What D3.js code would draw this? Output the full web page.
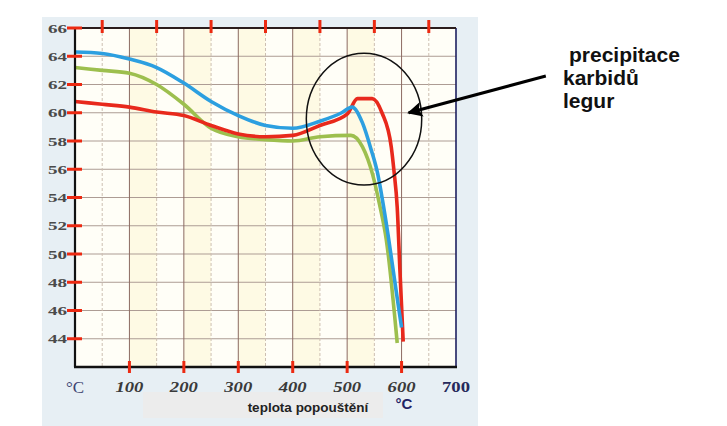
<!DOCTYPE html>
<meta charset="utf-8">
<style>
body { margin: 0; background: #fff; }
svg { display: block; }
</style>
<body>
<div id="chart"></div>
<script src="https://cdn.jsdelivr.net/npm/d3@7"></script>
<script>

// data: temperature (°C) vs hardness (HRC)
var blueT = [0, 50, 100, 150, 200, 250, 300, 350, 400, 450, 490, 509, 528, 544, 556, 565, 575, 590, 600];
var blueV = [64.3, 64.2, 63.8, 63.2, 62.1, 60.8, 59.8, 59.1, 58.9, 59.4, 60.0, 60.4, 59.3, 57.4, 55.7, 53.8, 51.4, 47.4, 44.8];

var redT = [0, 50, 100, 150, 200, 250, 300, 350, 400, 450, 500, 519, 546, 564, 581, 586, 592, 597, 603];
var redV = [60.8, 60.6, 60.4, 60.05, 59.8, 59.1, 58.5, 58.3, 58.4, 59.1, 59.9, 61.0, 61.0, 60.0, 57.6, 55.9, 53.3, 48.8, 43.8];

var greenT = [0, 50, 100, 150, 200, 250, 300, 350, 400, 450, 507, 528, 547, 559, 572, 592];
var greenV = [63.2, 63.0, 62.8, 62.0, 60.6, 58.9, 58.3, 58.1, 58.0, 58.3, 58.4, 57.6, 55.6, 53.6, 51.0, 43.7];

var xTicks = [100, 200, 300, 400, 500, 600, 700];
var xTopTicks = [50, 150, 250, 350, 450, 550, 650];
var xBottomTicks = [100, 200, 300, 400, 500, 600];
var yTicks = [44, 46, 48, 50, 52, 54, 56, 58, 60, 62, 64, 66];
var bands = [100, 200, 300, 400, 500];

var note = ['precipitace', 'karbidů', 'legur'];

var W = 727, H = 426;
var x = d3.scaleLinear().domain([0, 700]).range([75, 456]);
var y = d3.scaleLinear().domain([42, 66]).range([367, 28]);

var svg = d3.select('#chart').append('svg')
  .attr('width', W).attr('height', H);

// pale blue paper behind the chart
svg.append('rect')
  .attr('x', 42).attr('y', 17).attr('width', 436).attr('height', H - 17)
  .attr('fill', '#e7eff4');

// plot area
svg.append('rect')
  .attr('x', x(0)).attr('y', y(66))
  .attr('width', x(700) - x(0)).attr('height', y(42) - y(66))
  .attr('fill', '#fffef7');

svg.selectAll('.band').data(bands).enter().append('rect')
  .attr('x', function(d){ return x(d); })
  .attr('y', y(66))
  .attr('width', x(50) - x(0))
  .attr('height', y(42) - y(66))
  .attr('fill', '#fefae4');

// grid
svg.selectAll('.hgrid').data(yTicks).enter().append('line')
  .attr('x1', x(0)).attr('x2', x(700))
  .attr('y1', function(d){ return y(d); }).attr('y2', function(d){ return y(d); })
  .attr('stroke', '#ad9c94').attr('stroke-width', 1);

svg.selectAll('.vgrid').data(d3.range(50, 700, 50)).enter().append('line')
  .attr('x1', function(d){ return x(d); }).attr('x2', function(d){ return x(d); })
  .attr('y1', y(66)).attr('y2', y(42))
  .attr('stroke', function(d){ return d % 100 == 0 ? '#8c6a62' : '#cdbfb2'; })
  .attr('stroke-width', 1)
  .attr('stroke-dasharray', function(d){ return d % 100 == 0 ? null : '3,2'; });

// curves
var line = d3.line()
  .x(function(d){ return x(d[0]); })
  .y(function(d){ return y(d[1]); })
  .curve(d3.curveMonotoneX);

function series(T, V){ return T.map(function(t, i){ return [t, V[i]]; }); }

var curves = [
  {data: series(greenT, greenV), color: '#9dbf4e'},
  {data: series(redT, redV), color: '#e8291c'},
  {data: series(blueT, blueV), color: '#2c9fe0'}
];

svg.selectAll('.curve').data(curves).enter().append('path')
  .attr('d', function(d){ return line(d.data); })
  .attr('fill', 'none')
  .attr('stroke', function(d){ return d.color; })
  .attr('stroke-width', 3.6)
  .attr('stroke-linejoin', 'round');

// frame
svg.append('line').attr('x1', x(700)).attr('x2', x(700)).attr('y1', y(66)).attr('y2', y(42))
  .attr('stroke', '#1e2060').attr('stroke-width', 1.6);
svg.append('line').attr('x1', x(0)).attr('x2', x(700)).attr('y1', y(66)).attr('y2', y(66))
  .attr('stroke', '#2a1c1c').attr('stroke-width', 2);
svg.append('line').attr('x1', x(0) - 1).attr('x2', x(700) + 1).attr('y1', y(42)).attr('y2', y(42))
  .attr('stroke', '#111').attr('stroke-width', 2.6);
svg.append('line').attr('x1', x(0)).attr('x2', x(0)).attr('y1', y(66)).attr('y2', y(42))
  .attr('stroke', '#111').attr('stroke-width', 2.2);

// red tick marks
svg.selectAll('.ltick').data(yTicks).enter().append('line')
  .attr('x1', x(0) - 8).attr('x2', x(0) + 7)
  .attr('y1', function(d){ return y(d); }).attr('y2', function(d){ return y(d); })
  .attr('stroke', '#ec2a12').attr('stroke-width', 3);

svg.selectAll('.ttick').data(xTopTicks).enter().append('line')
  .attr('x1', function(d){ return x(d); }).attr('x2', function(d){ return x(d); })
  .attr('y1', y(66) - 8).attr('y2', y(66) + 5)
  .attr('stroke', '#ec2a12').attr('stroke-width', 3);

svg.selectAll('.btick').data(xBottomTicks).enter().append('line')
  .attr('x1', function(d){ return x(d); }).attr('x2', function(d){ return x(d); })
  .attr('y1', y(42) - 6).attr('y2', y(42) + 6)
  .attr('stroke', '#ec2a12').attr('stroke-width', 3);

// tick labels
svg.selectAll('.ylab').data(yTicks).enter().append('text')
  .attr('x', x(0) - 8)
  .attr('y', function(d){ return y(d) + 4.5; })
  .attr('text-anchor', 'end')
  .attr('font-family', 'Liberation Serif')
  .attr('font-weight', 'bold')
  .attr('font-size', 12.5)
  .attr('textLength', 19)
  .attr('lengthAdjust', 'spacingAndGlyphs')
  .attr('fill', '#4a4a4a')
  .text(function(d){ return d; });

svg.selectAll('.xlab').data(xTicks).enter().append('text')
  .attr('x', function(d){ return x(d) - 14; })
  .attr('y', 392)
  .attr('font-family', 'Liberation Serif')
  .attr('font-weight', 'bold')
  .attr('font-style', function(d){ return d == 700 ? 'normal' : 'italic'; })
  .attr('font-size', 14)
  .attr('textLength', 28)
  .attr('lengthAdjust', 'spacingAndGlyphs')
  .attr('fill', function(d){ return d == 700 ? '#262a5c' : '#3a3a3a'; })
  .text(function(d){ return d; });

svg.append('text')
  .attr('x', 66).attr('y', 393)
  .attr('font-family', 'Liberation Serif')
  .attr('font-size', 17)
  .attr('fill', '#3d4470')
  .text('°C');

// axis title box
svg.append('rect')
  .attr('x', 143).attr('y', 392).attr('width', 240).attr('height', 26)
  .attr('fill', '#ececec');
svg.append('text')
  .attr('x', 308).attr('y', 412)
  .attr('text-anchor', 'middle')
  .attr('font-family', 'Liberation Sans')
  .attr('font-weight', 'bold')
  .attr('font-size', 13.5)
  .attr('fill', '#222')
  .text('teplota popouštění');
svg.append('text')
  .attr('x', x(600) - 6).attr('y', 409)
  .attr('font-family', 'Liberation Sans')
  .attr('font-weight', 'bold')
  .attr('font-size', 15)
  .attr('fill', '#1f2466')
  .text('°C');

// annotation: ellipse around the precipitation bump and arrow to the note
svg.append('ellipse')
  .attr('cx', x(531)).attr('cy', y(59.55))
  .attr('rx', x(106) - x(0)).attr('ry', y(66 - 4.67) - y(66))
  .attr('fill', 'none').attr('stroke', '#111').attr('stroke-width', 1.5);

svg.append('defs').append('marker')
  .attr('id', 'head').attr('viewBox', '0 0 10 10')
  .attr('refX', 9).attr('refY', 5)
  .attr('markerWidth', 6).attr('markerHeight', 5)
  .attr('markerUnits', 'strokeWidth')
  .attr('orient', 'auto')
  .append('path').attr('d', 'M0,0 L10,5 L0,10 L2,5 Z').attr('fill', '#000');

svg.append('line')
  .attr('x1', x(865)).attr('y1', y(62.6))
  .attr('x2', x(613)).attr('y2', y(60.0))
  .attr('stroke', '#000').attr('stroke-width', 3)
  .attr('marker-end', 'url(#head)');

svg.selectAll('.note').data(note).enter().append('text')
  .attr('x', function(d, i){ return i == 0 ? 569 : 563; })
  .attr('y', function(d, i){ return 62 + i * 23; })
  .attr('font-family', 'Liberation Sans')
  .attr('font-weight', 'bold')
  .attr('font-size', 21)
  .attr('fill', '#111')
  .text(function(d){ return d; });

</script>
</body>
